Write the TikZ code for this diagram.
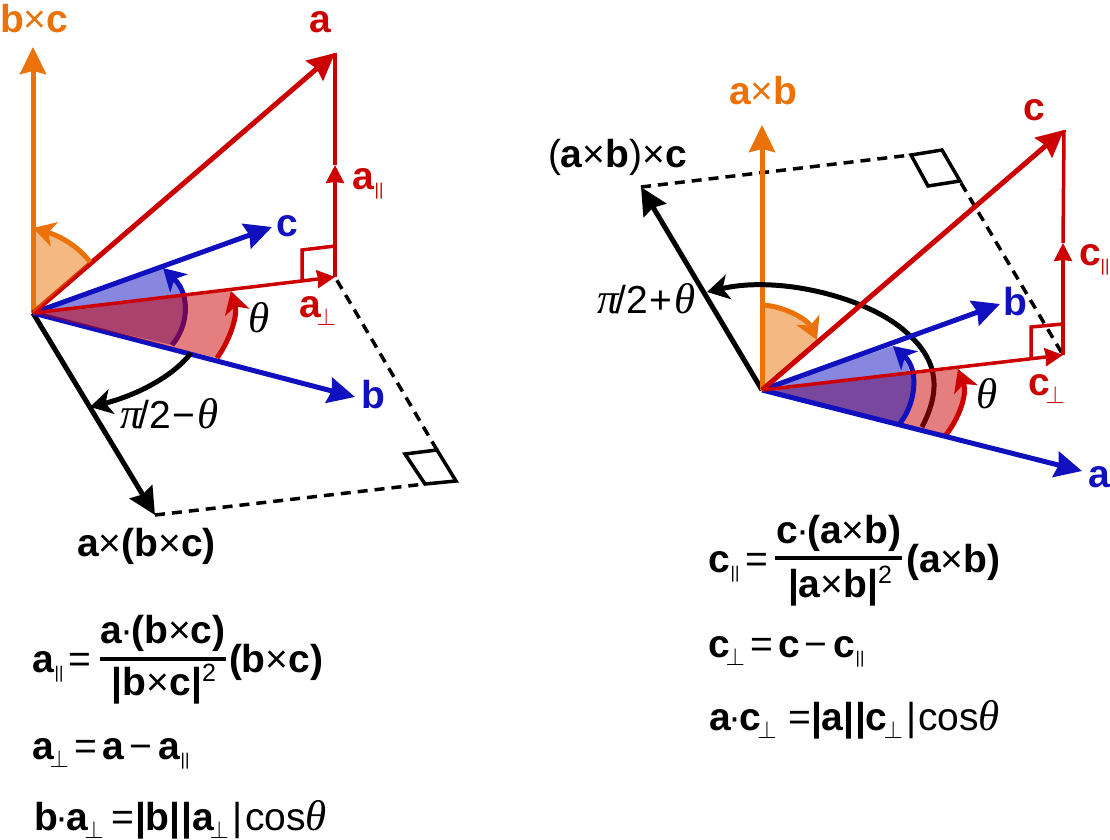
\documentclass[tikz,border=0pt]{standalone}
\usepackage{fontspec}
\usetikzlibrary{arrows.meta}
\setmainfont{Liberation Sans}
\newfontfamily\srf{Liberation Serif}
\definecolor{cred}{HTML}{CC0000}
\definecolor{cblue}{HTML}{1010BF}
\definecolor{corange}{HTML}{EA7208}
\newcommand{\pa}{\raisebox{-6pt}{\normalfont\fontsize{17}{17}\selectfont ||}}
\newcommand{\pe}{\raisebox{-8pt}{\normalfont\fontsize{25}{25}\selectfont$\perp$}}
\newcommand{\tm}{{\normalfont×}}
\newcommand{\dt}{\kern-2pt{\normalfont·}\kern-2pt}
\newcommand{\thet}{{\normalfont\srf\itshape\fontsize{43}{43}\selectfont θ}}
\newcommand{\pii}{{\normalfont\srf\itshape\fontsize{43}{43}\selectfont π}}
\tikzset{
  txt/.style={anchor=base west,inner sep=0pt,outer sep=0pt,font=\fontsize{39}{42}\selectfont},
  bld/.style={txt,font=\fontsize{39}{42}\selectfont\bfseries},
  ctr/.style={bld,anchor=base},
  bigtip/.style={-{Stealth[length=27pt,width=26pt,inset=3pt]}},
  midtip/.style={-{Stealth[length=18pt,width=18pt,inset=1pt]}},
  arctip/.style={-{Stealth[length=22pt,width=25pt,inset=6pt]}},
  vec/.style={line width=5pt,bigtip},
  thin line/.style={line width=3.5pt,line join=miter},
  dashline/.style={line width=3.5pt,dash pattern=on 10pt off 7pt},
  arcline/.style={line width=5pt,arctip},
  wedgeR/.style={fill=cred,fill opacity=.5},
  wedgeB/.style={fill=cblue,fill opacity=.5},
  wedgeO/.style={fill=corange,fill opacity=.5},
  fracbar/.style={line width=3.5pt},
}
\begin{document}
\begin{tikzpicture}[x=1pt,y=-1pt]
\useasboundingbox (0,0) rectangle (1110,839);
% ---------- left coordinates
\coordinate (O) at (33,313);
\coordinate (A) at (335,53);
\coordinate (BC) at (33,47);
\coordinate (C) at (272,227);
\coordinate (B) at (355,397);
\coordinate (AP) at (335,277);
\coordinate (AM) at (335,165);
\coordinate (X) at (155,515);
\coordinate (S1) at (425,484);
\coordinate (S2) at (456,481);
\coordinate (S3) at (437,450);
\coordinate (S4) at (405,454);
\coordinate (Q1) at (302,280);
\coordinate (Q2) at (302,250);
\coordinate (Q3) at (335,246);
% left drawing
\draw[dashline] (X) -- (S1);
\draw[dashline] (S3) -- (AP);
\draw[thin line] (S1) -- (S2) -- (S3) -- (S4) -- cycle;
\draw[vec,black] (O) -- (X);
\draw[vec,corange] (O) -- (BC);
\fill[wedgeB] (O) -- (172,345) .. controls (187,328) and (192,296) .. (163,268) -- cycle;
\draw[arcline,cblue] (172,345) .. controls (187,328) and (192,296) .. (163,268);
\draw[vec,cblue] (O) -- (C);
\draw[vec,cblue] (O) -- (B);
\fill[wedgeR] (O) -- (217,358) .. controls (230,340) and (238,315) .. (231,291) -- cycle;
\draw[arcline,cred] (217,358) .. controls (230,340) and (238,315) .. (231,291);
\draw[vec,cred] (O) -- (A);
\draw[thin line,cred] (Q1) -- (Q2) -- (Q3);
\draw[line width=3.5pt,cred,midtip] (O) -- (AP);
\draw[line width=3.5pt,cred,midtip] (AP) -- (AM);
\draw[line width=3.5pt,cred] (AM) -- (A);
\fill[wedgeO] (O) -- (90,262) .. controls (78,246) and (60,236) .. (35,228) -- (33,228) -- cycle;
\draw[arcline,corange] (90,262) .. controls (78,246) and (60,236) .. (33,228);
\draw[arcline,black] (191,353) .. controls (170,380) and (130,397) .. (90,407);
% left labels
\node[bld,corange] (lbc) at (0,32) {b\tm c};
\node[bld,cred] (la) at (309,32) {a};
\node[bld,cred] (lap) at (352,189) {a\kern1pt\pa};
\node[bld,cblue] (lc) at (276,236) {c};
\node[bld,cblue] (lb) at (361,408) {b};
\node[txt] (lth) at (248,332) {\thet};
\node[bld,cred] (lae) at (299,317) {a\kern-4pt\pe};
\node[txt] (lpm) at (120,428) {\pii\kern-3pt/2\kern1pt−\kern3pt\thet};
\node[bld] (lx) at (77,556) {a\tm(b\tm c)};
% left equations
\node[bld] (e1a) at (32,672) {a\kern1pt\pa};
\node[txt] (e1b) at (68,672) {=};
\node[ctr] (e1c) at (163,643) {a\dt(b\tm c)};
\node[ctr] (e1d) at (164,695) {|b\tm c|\raisebox{14pt}{\normalfont\fontsize{25}{25}\selectfont 2}};
\coordinate (f1l) at (100,659);
\coordinate (f1r) at (226,659);
\draw[fracbar] (f1l) -- (f1r);
\node[bld] (e1e) at (229,672) {(b\tm c)};
\node[bld] (e2a) at (32,759) {a\kern-4pt\pe};
\node[txt] (e2b) at (74,759) {=};
\node[bld] (e2c) at (102,759) {a};
\node[txt] (e2d) at (129,759) {−};
\node[bld] (e2e) at (158,759) {a\kern1pt\pa};
\node[bld] (e3a) at (34,830) {b\dt a\kern-4pt\pe};
\node[txt] (e3b) at (111,830) {=};
\node[bld] (e3c) at (135,830) {|b|\kern.5pt|a\kern-4pt\pe};
\node[txt] (e3d) at (232,830) {|};
\node[txt] (e3e) at (245,830) {cos\thet};
% ---------- right coordinates
\coordinate (O2) at (762,390);
\coordinate (C2) at (1064,130);
\coordinate (AB) at (762,125);
\coordinate (B2) at (1000,304);
\coordinate (A2) at (1082,471);
\coordinate (CP) at (1063,355);
\coordinate (CM) at (1063,243);
\coordinate (X2) at (641,187);
\coordinate (T1) at (911,155);
\coordinate (T2) at (942,150);
\coordinate (T3) at (960,181);
\coordinate (T4) at (928,186);
\coordinate (T5) at (961,183);
\coordinate (R1) at (1031,358);
\coordinate (R2) at (1031,327);
\coordinate (R3) at (1063,324);
% right drawing
\draw[dashline] (X2) -- (T1);
\draw[dashline] (T5) -- (CP);
\draw[thin line] (T1) -- (T2) -- (T3) -- (T4) -- cycle;
\draw[vec,black] (O2) -- (X2);
\draw[vec,corange] (O2) -- (AB);
\fill[wedgeO] (O2) -- (762,305) .. controls (785,306) and (808,320) .. (817,340) -- cycle;
\draw[arcline,corange] (762,305) .. controls (785,306) and (808,320) .. (817,340);
\draw[arcline,black] (922,427) .. controls (940,392) and (940,362) .. (907,333) .. controls (870,298) and (780,275) .. (707,292);
\fill[wedgeR] (O2) -- (945,436) .. controls (958,420) and (968,395) .. (958,369) -- cycle;
\draw[arcline,cred] (945,436) .. controls (958,420) and (968,395) .. (958,369);
\fill[wedgeB] (O2) -- (900,423) .. controls (915,405) and (920,370) .. (893,346) -- cycle;
\draw[arcline,cblue] (900,423) .. controls (915,405) and (920,370) .. (893,346);
\draw[vec,cblue] (O2) -- (B2);
\draw[vec,cblue] (O2) -- (A2);
\draw[vec,cred] (O2) -- (C2);
\draw[thin line,cred] (R1) -- (R2) -- (R3);
\draw[line width=3.5pt,cred,midtip] (O2) -- (CP);
\draw[line width=3.5pt,cred,midtip] (CP) -- (CM);
\draw[line width=3.5pt,cred] (CM) -- (C2);
% right labels
\node[bld,corange] (rab) at (729,104) {a\tm b};
\node[bld,cred] (rc) at (1023,120) {c};
\node[txt] (rx) at (548,167) {(\textbf{a}\tm\textbf{b})\tm\textbf{c}};
\node[bld,cred] (rcp) at (1079,265) {c\pa};
\node[bld,cblue] (rb) at (1003,315) {b};
\node[bld,cblue] (ra) at (1088,487) {a};
\node[txt] (rth) at (976,408) {\thet};
\node[bld,cred] (rce) at (1028,395) {c\kern-4pt\pe};
\node[txt] (rpm) at (597,313) {\pii\kern-3pt/2\kern1pt+\kern3pt\thet};
% right equations
\node[bld] (r1a) at (708,572) {c\kern1pt\pa};
\node[txt] (r1b) at (745,572) {=};
\node[ctr] (r1c) at (839,543) {c\dt(a\tm b)};
\node[ctr] (r1d) at (840,597) {|a\tm b|\raisebox{14pt}{\normalfont\fontsize{25}{25}\selectfont 2}};
\coordinate (f2l) at (775,558);
\coordinate (f2r) at (902,558);
\draw[fracbar] (f2l) -- (f2r);
\node[bld] (r1e) at (906,572) {(a\tm b)};
\node[bld] (r2a) at (708,657) {c\kern-4pt\pe};
\node[txt] (r2b) at (750,657) {=};
\node[bld] (r2c) at (778,657) {c};
\node[txt] (r2d) at (804,657) {−};
\node[bld] (r2e) at (833,657) {c\kern1pt\pa};
\node[bld] (r3a) at (709,730) {a\dt c\kern-4pt\pe};
\node[txt] (r3b) at (788,730) {=};
\node[bld] (r3c) at (811,730) {|a|\kern.5pt|c\kern-4pt\pe};
\node[txt] (r3d) at (906,730) {|};
\node[txt] (r3e) at (918,730) {cos\thet};
\end{tikzpicture}
\end{document}
